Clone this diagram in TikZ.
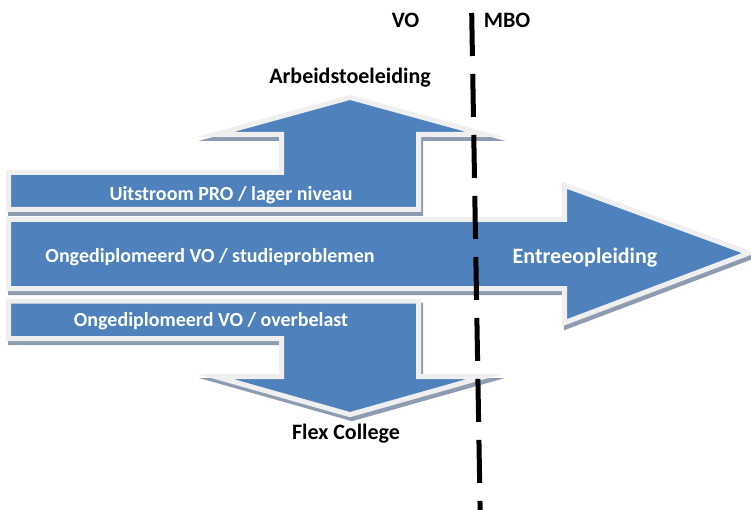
\documentclass[tikz,border=0pt]{standalone}
\usepackage{fontspec}
\setmainfont{Carlito}
\definecolor{arrblue}{HTML}{4F81BD}
\definecolor{rimgray}{HTML}{EFEFEF}
\definecolor{shadowgray}{HTML}{8E9CB2}
\newcommand\myUpPath{(8.5,209.5) -- (8.5,172.5) -- (281.5,172.5) -- (281.5,134.5) -- (215,134.5) -- (350,97.4) -- (485,134.5) -- (418.5,134.5) -- (418.5,209.5) -- cycle}
\newcommand\myMainPath{(8.5,219.5) -- (564.5,219.5) -- (564.5,185.3) -- (749,253) -- (564.5,322.7) -- (564.5,288.5) -- (8.5,288.5) -- cycle}
\newcommand\myDownPath{(8.5,301) -- (418.5,301) -- (418.5,376.5) -- (485,376.5) -- (350,414.6) -- (215,376.5) -- (281.5,376.5) -- (281.5,338.5) -- (8.5,338.5) -- cycle}
\begin{document}
\begin{tikzpicture}[x=1pt,y=-1pt,
  shp/.style={fill=arrblue, draw=rimgray, line width=5pt, miter limit=20},
  shd/.style={fill=shadowgray, draw=shadowgray, line width=5pt, miter limit=20, shift={(2,4)}},
  lbl/.style={font=\bfseries\fontsize{22}{26}\selectfont, text=black, inner sep=0pt},
  wlbl/.style={font=\bfseries\fontsize{20}{24}\selectfont, text=white, inner sep=0pt},
  biglbl/.style={font=\bfseries\fontsize{22}{26}\selectfont, text=white, inner sep=0pt},
  divider/.style={line width=5pt, black, dash pattern=on 43pt off 18pt}]
\useasboundingbox (0,0) rectangle (751,510);
% shadows
\draw[shd] \myUpPath;
\draw[shd] \myMainPath;
\draw[shd] \myDownPath;
% shapes
\draw[shp] \myUpPath;
\draw[shp] \myMainPath;
\draw[shp] \myDownPath;
% labels
\node[wlbl] (uit) at (231,195) {Uitstroom PRO / lager niveau};
\node[wlbl] (ongstud) at (210,257) {Ongediplomeerd VO / studieproblemen};
\node[biglbl] (entree) at (585,258) {Entreeopleiding};
\node[wlbl] (ongover) at (211,321) {Ongediplomeerd VO / overbelast};
\node[lbl] (arbeid) at (350,78) {Arbeidstoeleiding};
\node[lbl] (flex) at (346,434) {Flex College};
\node[lbl] (vo) at (405.5,20) {VO};
\node[lbl] (mbo) at (507,20) {MBO};
% divider
\coordinate (dtop) at (471.7,13);
\coordinate (dbot) at (480.2,515);
\draw[divider] (dtop) -- (dbot);
\end{tikzpicture}
\end{document}
